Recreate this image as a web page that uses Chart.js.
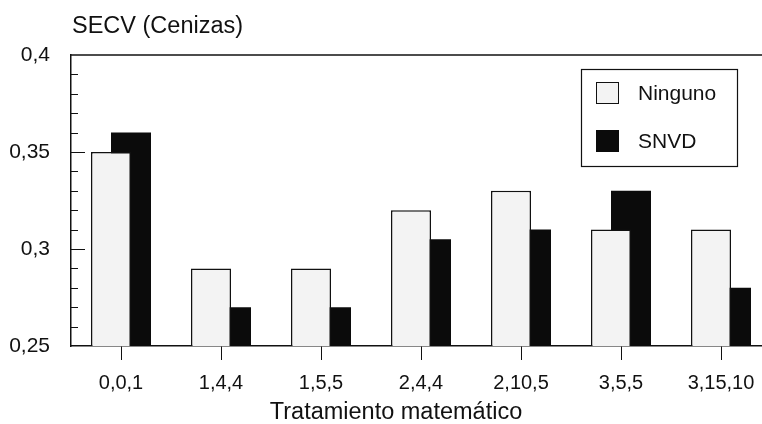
<!DOCTYPE html>
<html><head><meta charset="utf-8">
<script src="https://cdn.jsdelivr.net/npm/chart.js@4"></script>
<style>
html,body{margin:0;padding:0;background:#fff;overflow:hidden;width:762px;height:424px}
#wrap{width:800px;height:424px;position:relative}
</style></head>
<body><div id="wrap"><canvas id="c" width="800" height="424"></canvas></div>
<script>
const categories = ['0,0,1','1,4,4','1,5,5','2,4,4','2,10,5','3,5,5','3,15,10'];
const ninguno = [0.35, 0.29, 0.29, 0.32, 0.33, 0.31, 0.31];
const snvd    = [0.36, 0.27, 0.27, 0.305, 0.31, 0.33, 0.28];
const seriesNames = ['Ninguno', 'SNVD'];
const yMajorTicks = [0.25, 0.3, 0.35, 0.4];
const yTickLabels = ['0,25', '0,3', '0,35', '0,4'];
const yTitle = 'SECV (Cenizas)';
const xTitle = 'Tratamiento matemático';

const FONT = '"Liberation Sans", Arial, Helvetica, sans-serif';
const INK = '#111';
const LIGHT = '#f3f3f3';

function majorIndex(v){ return yMajorTicks.findIndex(m => Math.abs(m - v) < 1e-6); }

const decor = {
  id: 'decor',
  afterDraw(chart){
    const ctx = chart.ctx, a = chart.chartArea, ys = chart.scales.y;
    ctx.save();
    // top frame line
    ctx.strokeStyle = INK; ctx.lineWidth = 1.5;
    ctx.beginPath(); ctx.moveTo(a.left, a.top); ctx.lineTo(a.right, a.top); ctx.stroke();
    // inward y tick marks
    ctx.lineWidth = 1;
    ys.ticks.forEach(t => {
      const y = Math.round(ys.getPixelForValue(t.value)) + 0.5;
      if (Math.abs(t.value - ys.min) < 1e-6 || Math.abs(t.value - ys.max) < 1e-6) return;
      const len = majorIndex(t.value) >= 0 ? 14 : 7;
      ctx.beginPath(); ctx.moveTo(a.left, y); ctx.lineTo(a.left + len, y); ctx.stroke();
    });
    // legend
    const lx = a.left + 510, ly = a.top + 14, lw = 156, lh = 97;
    ctx.lineWidth = 1.2; ctx.strokeStyle = INK;
    ctx.strokeRect(lx + 0.5, ly + 0.5, lw, lh);
    ctx.font = '21px ' + FONT; ctx.textBaseline = 'middle'; ctx.textAlign = 'left';
    chart.data.datasets.forEach((ds, i) => {
      const cy = ly + 24 + i * 48;
      ctx.fillStyle = ds.backgroundColor;
      ctx.fillRect(lx + 15, cy - 11, 23, 22);
      if (ds.borderWidth) { ctx.lineWidth = 1; ctx.strokeStyle = INK; ctx.strokeRect(lx + 15.5, cy - 10.5, 22, 21); }
      ctx.fillStyle = INK;
      ctx.fillText(ds.label, lx + 57, cy + 1);
    });
    // axis titles
    ctx.font = '23.5px ' + FONT; ctx.textBaseline = 'alphabetic';
    ctx.textAlign = 'left'; ctx.fillText(yTitle, 72, 33);
    ctx.textAlign = 'center'; ctx.fillText(xTitle, 396, 419);
    ctx.restore();
  }
};

new Chart(document.getElementById('c'), {
  type: 'bar',
  data: {
    labels: categories,
    datasets: [
      { label: seriesNames[0], data: ninguno, backgroundColor: LIGHT, borderColor: INK, borderWidth: 1.5 },
      { label: seriesNames[1], data: snvd, backgroundColor: '#0b0b0b', borderWidth: 0 }
    ]
  },
  options: {
    responsive: false, animation: false, devicePixelRatio: 1,
    categoryPercentage: 0.4, barPercentage: 2,
    layout: { padding: { left: 0, top: 55, right: 29, bottom: 0 } },
    plugins: { legend: { display: false }, tooltip: { enabled: false }, title: { display: false } },
    scales: {
      x: {
        offset: true,
        grid: { display: true, drawOnChartArea: false, drawTicks: true, tickLength: 14, offset: false, color: INK, lineWidth: 1 },
        border: { display: true, color: INK, width: 1.5 },
        ticks: { color: INK, font: { family: FONT, size: 20 }, padding: 11, maxRotation: 0, autoSkip: false },
        afterFit(s){ s.height = 78; }
      },
      y: {
        min: 0.25, max: 0.4,
        grid: { display: false },
        border: { display: true, color: INK, width: 1.5 },
        ticks: {
          stepSize: 0.01, autoSkip: false, color: INK, padding: 13,
          font: { family: FONT, size: 21 },
          callback(v){ const i = majorIndex(v); return i >= 0 ? yTickLabels[i] : ''; }
        },
        afterFit(s){ s.width = 71; }
      }
    }
  },
  plugins: [decor]
});
</script>
</body></html>
